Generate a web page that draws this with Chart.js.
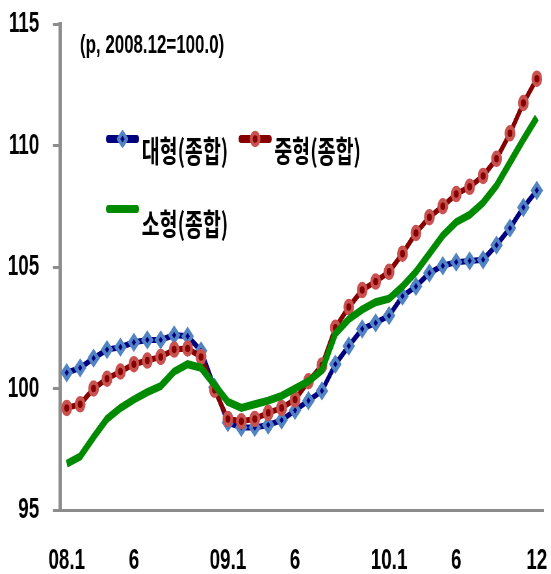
<!DOCTYPE html>
<html>
<head>
<meta charset="utf-8">
<script src="https://cdn.jsdelivr.net/npm/chart.js@4/dist/chart.umd.min.js"></script>
<style>
  html, body { margin: 0; padding: 0; background: #fff; }
  #frame { width: 551px; height: 574px; overflow: hidden; position: relative; }
  /* the chart is laid out wide and then compressed horizontally */
  #wrap { width: 848px; height: 574px; transform: scaleX(0.65); transform-origin: 0 0; }
</style>
</head>
<body>
<div id="frame"><div id="wrap"><canvas id="c" width="848" height="574"></canvas></div></div>
<script>
// Monthly price index, 2008.1 – 2010.12 (2008.12 = 100.0)
const months = [
  '08.1','08.2','08.3','08.4','08.5','08.6','08.7','08.8','08.9','08.10','08.11','08.12',
  '09.1','09.2','09.3','09.4','09.5','09.6','09.7','09.8','09.9','09.10','09.11','09.12',
  '10.1','10.2','10.3','10.4','10.5','10.6','10.7','10.8','10.9','10.10','10.11','10.12'
];
const xTickLabels = [
  '08.1','','','','','6','','','','','','',
  '09.1','','','','','6','','','','','','',
  '10.1','','','','','6','','','','','','12'
];
const yTicks = [95, 100, 105, 110, 115];

const seriesNames = ['대형(종합)', '중형(종합)', '소형(종합)'];
const large  = [100.65,100.85,101.25,101.6,101.7,101.9,102.0,102.0,102.2,102.15,101.55,100.05,
                98.6,98.4,98.4,98.5,98.7,99.1,99.5,99.9,101.0,101.75,102.45,102.7,
                103.0,103.8,104.2,104.75,105.05,105.2,105.25,105.3,105.9,106.6,107.45,108.15];
const medium = [99.2,99.35,100.0,100.4,100.7,101.0,101.15,101.3,101.6,101.65,101.3,99.95,
                98.75,98.65,98.75,99.0,99.2,99.55,100.3,100.95,102.5,103.35,104.05,104.4,
                104.8,105.55,106.4,107.05,107.5,108.0,108.3,108.75,109.45,110.5,111.75,112.75];
const small  = [96.9,97.2,98.0,98.75,99.2,99.55,99.85,100.1,100.7,101.0,100.85,100.15,
                99.45,99.2,99.35,99.5,99.7,100.0,100.3,100.75,102.25,102.85,103.25,103.55,
                103.7,104.2,104.8,105.55,106.3,106.85,107.15,107.65,108.35,109.3,110.25,111.15];
const note = '(p, 2008.12=100.0)';

const NAVY = '#00007f', LBLUE = '#5284c4';
const DRED = '#850000', LRED = '#c8524f';
const GREEN = '#008a00';
const AXIS = '#8c8c8c';
const tickFont = { family: '"Liberation Sans Narrow", "Arial Narrow", "Liberation Sans", sans-serif', size: 29, weight: 'bold' };

function marker(ctx, style, x, y, fill, stroke) {
  ctx.save();
  ctx.beginPath();
  if (style === 'rectRot') {
    const r = 6.5;
    ctx.moveTo(x - r, y); ctx.lineTo(x, y - r); ctx.lineTo(x + r, y); ctx.lineTo(x, y + r); ctx.closePath();
  } else {
    ctx.arc(x, y, 6, 0, Math.PI * 2);
  }
  ctx.fillStyle = fill; ctx.fill();
  ctx.lineWidth = 4.5; ctx.strokeStyle = stroke; ctx.lineJoin = 'round'; ctx.stroke();
  ctx.restore();
}

// Legend and unit note
const overlay = {
  id: 'overlay',
  afterDraw(chart) {
    const ctx = chart.ctx;
    ctx.save();
    ctx.fillStyle = '#000';
    ctx.font = 'bold 26px "Liberation Sans Narrow", "Arial Narrow", "Liberation Sans", sans-serif';
    ctx.textBaseline = 'middle';
    ctx.textAlign = 'left';
    ctx.fillText(note, 123, 46);

    const items = [
      { name: seriesNames[0], x: 167, y: 139, ty: 151, color: NAVY, style: 'rectRot', fill: NAVY, stroke: LBLUE },
      { name: seriesNames[1], x: 371, y: 139, ty: 151, color: DRED, style: 'circle', fill: DRED, stroke: LRED },
      { name: seriesNames[2], x: 167, y: 209, ty: 224, color: GREEN, style: null }
    ];
    ctx.font = 'bold 30px "Noto Sans CJK KR", sans-serif';
    for (const it of items) {
      ctx.beginPath();
      ctx.lineCap = 'round';
      ctx.lineWidth = 8;
      ctx.strokeStyle = it.color;
      ctx.moveTo(it.x, it.y);
      ctx.lineTo(it.x + 43, it.y);
      ctx.stroke();
      if (it.style) marker(ctx, it.style, it.x + 21.5, it.y, it.fill, it.stroke);
      ctx.fillStyle = '#000';
      ctx.fillText(it.name, it.x + 51, it.ty);
    }
    ctx.restore();
  }
};

new Chart(document.getElementById('c'), {
  type: 'line',
  data: {
    labels: months,
    datasets: [
      { label: seriesNames[0], data: large, order: 2, borderColor: NAVY, borderWidth: 6,
        pointStyle: 'rectRot', pointRadius: 6.5, pointBorderWidth: 4.5,
        pointBackgroundColor: NAVY, pointBorderColor: LBLUE, tension: 0 },
      { label: seriesNames[1], data: medium, order: 1, borderColor: DRED, borderWidth: 6,
        pointStyle: 'circle', pointRadius: 6, pointBorderWidth: 4.5,
        pointBackgroundColor: DRED, pointBorderColor: LRED, tension: 0 },
      { label: seriesNames[2], data: small, order: 0, borderColor: GREEN, borderWidth: 8,
        pointRadius: 0, tension: 0 }
    ]
  },
  options: {
    responsive: false,
    animation: false,
    events: [],
    layout: { padding: { top: 24, right: 11.8, left: 0, bottom: 0 } },
    plugins: { legend: { display: false }, tooltip: { enabled: false } },
    scales: {
      x: {
        offset: true,
        grid: { display: false, drawTicks: false },
        border: { display: true, color: AXIS, width: 3 },
        ticks: {
          autoSkip: false, maxRotation: 0, minRotation: 0, padding: 34,
          color: '#000', font: tickFont,
          callback: (v, i) => xTickLabels[i]
        },
        afterFit: s => { s.height = 64; s.paddingLeft = 0; s.paddingRight = 0; }
      },
      y: {
        min: yTicks[0], max: yTicks[yTicks.length - 1],
        afterBuildTicks: s => { s.ticks = yTicks.map(v => ({ value: v })); },
        grid: { display: true, drawOnChartArea: false, drawTicks: true, tickLength: 11, color: AXIS, lineWidth: 3 },
        border: { display: true, color: AXIS, width: 5 },
        ticks: { padding: 21, color: '#000', font: tickFont },
        afterFit: s => { s.width = 92.3; s.paddingTop = 0; s.paddingBottom = 0; }
      }
    }
  },
  plugins: [overlay]
});
</script>
</body>
</html>
